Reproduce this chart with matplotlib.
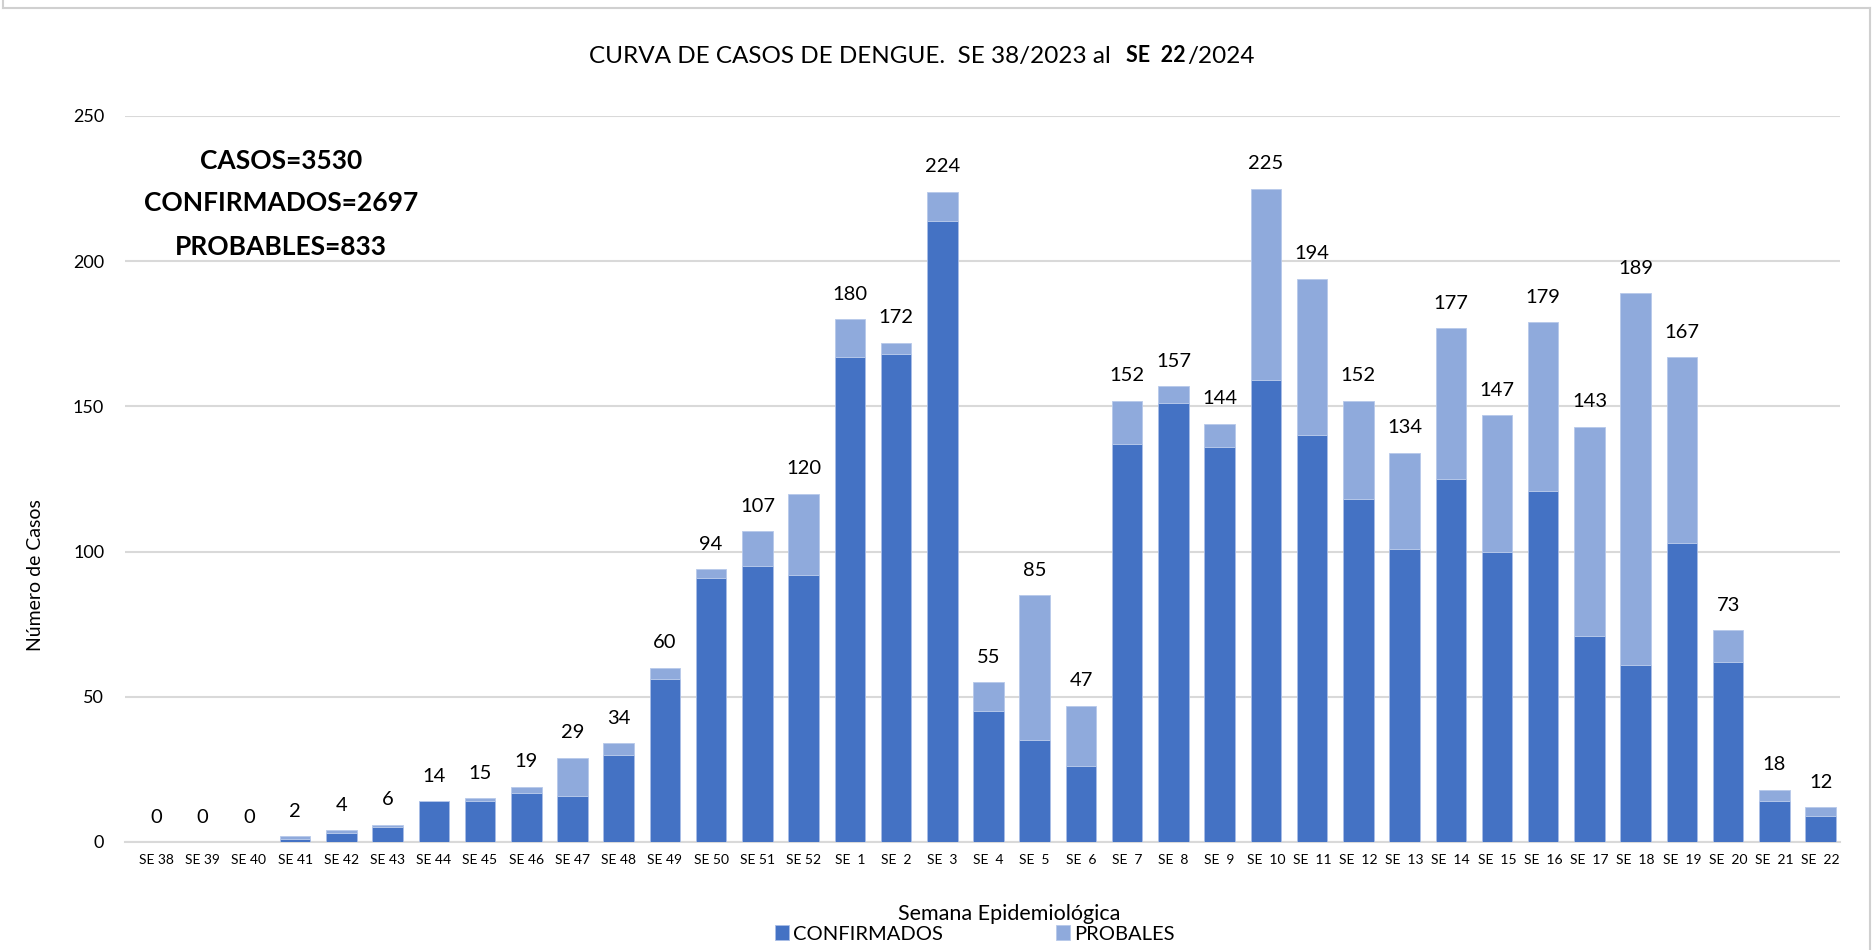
import matplotlib
matplotlib.use('Agg')
import matplotlib.pyplot as plt
from matplotlib.lines import Line2D
import numpy as np

# ---------------- data ----------------
semanas = ['SE 38', 'SE 39', 'SE 40', 'SE 41', 'SE 42', 'SE 43', 'SE 44', 'SE 45',
           'SE 46', 'SE 47', 'SE 48', 'SE 49', 'SE 50', 'SE 51', 'SE 52',
           'SE  1', 'SE  2', 'SE  3', 'SE  4', 'SE  5', 'SE  6', 'SE  7', 'SE  8',
           'SE  9', 'SE  10', 'SE  11', 'SE  12', 'SE  13', 'SE  14', 'SE  15',
           'SE  16', 'SE  17', 'SE  18', 'SE  19', 'SE  20', 'SE  21', 'SE  22']
confirmados = [0, 0, 0, 1, 3, 5, 14, 14, 17, 16, 30, 56, 91, 95, 92,
               167, 168, 214, 45, 35, 26, 137, 151, 136, 159, 140, 118, 101,
               125, 100, 121, 71, 61, 103, 62, 14, 9]
probables = [0, 0, 0, 1, 1, 1, 0, 1, 2, 13, 4, 4, 3, 12, 28,
             13, 4, 10, 10, 50, 21, 15, 6, 8, 66, 54, 34, 33,
             52, 47, 58, 72, 128, 64, 11, 4, 3]
totales = [0, 0, 0, 2, 4, 6, 14, 15, 19, 29, 34, 60, 94, 107, 120,
           180, 172, 224, 55, 85, 47, 152, 157, 144, 225, 194, 152, 134,
           177, 147, 179, 143, 189, 167, 73, 18, 12]
yticks = [0, 50, 100, 150, 200, 250]
resumen = ['CASOS=3530', 'CONFIRMADOS=2697', 'PROBABLES=833']

# ---------------- style ----------------
FONT = 'Lato'
plt.rcParams['font.family'] = [FONT, 'DejaVu Sans']
C_CONF = '#4472C4'
C_PROB = '#8FAADC'
GRID = '#D9D9D9'

W, H = 1873, 950
fig = plt.figure(figsize=(W / 100, H / 100), dpi=100)
fig.patch.set_facecolor('white')

ax = fig.add_axes([125 / W, 1 - 842 / H, (1840 - 125) / W, (842 - 116) / H])
x = np.arange(len(semanas))
bw = 0.66
ax.bar(x, confirmados, bw, color=C_CONF, edgecolor='#A9BDE6', linewidth=0.6,
       label='CONFIRMADOS', zorder=3)
ax.bar(x, probables, bw, bottom=confirmados, color=C_PROB, edgecolor='#B7C9EA',
       linewidth=0.6, label='PROBALES', zorder=3)

ax.set_ylim(0, 250)
ax.set_xlim(-0.68, len(semanas) - 1 + 0.42)
ax.set_yticks(yticks)
ax.set_yticklabels([str(v) for v in yticks], fontsize=13)
ax.set_xticks(x)
ax.set_xticklabels(semanas, fontsize=10)
ax.tick_params(axis='y', length=0, pad=15)
ax.tick_params(axis='x', length=0, pad=9)
ax.yaxis.grid(True, color=GRID, linewidth=1.5, zorder=0)
ax.set_axisbelow(True)
for s in ['top', 'right', 'left']:
    ax.spines[s].set_visible(False)
ax.spines['bottom'].set_color(GRID)
ax.spines['bottom'].set_linewidth(1.5)

for xi, t in zip(x, totales):
    ax.annotate(str(t), (xi, t), xytext=(0, 14), textcoords='offset points',
                ha='center', va='baseline', fontsize=14.5, color='black')

# summary text
for txt, yp in zip(resumen, [161, 203, 247]):
    fig.text(281 / W, 1 - yp / H, txt, ha='center', va='center',
             fontsize=19, fontweight='bold', color='black')

# axis labels
fig.text(36 / W, 1 - 575 / H, 'Número de Casos', rotation=90, ha='center',
         va='center', fontsize=14)
fig.text(1009 / W, 1 - 914 / H, 'Semana Epidemiológica', ha='center',
         va='center', fontsize=15.5)

# legend
fig.legend(loc='center', bbox_to_anchor=(975 / W, 1 - 934 / H), ncol=2,
           frameon=False, fontsize=14.5, handlelength=0.7, handleheight=0.7,
           handletextpad=0.2, columnspacing=5.6, borderpad=0, borderaxespad=0)

# title in pieces (bold "SE  22")
renderer = fig.canvas.get_renderer()
parts = [('CURVA DE CASOS DE DENGUE.  SE 38/2023 al  ', 'normal', 17.5),
         ('SE  22', 'bold', 15.5),
         ('/2024', 'normal', 17.5)]
texts = []
for s, wgt, fs in parts:
    t = fig.text(0, 1 - 54 / H, s, ha='left', va='center_baseline',
                 fontsize=fs, fontweight=wgt)
    texts.append(t)
widths = [t.get_window_extent(renderer).width for t in texts]
total_w = sum(widths)
x0 = 920 - total_w / 2
for t, w in zip(texts, widths):
    t.set_x(x0 / W)
    x0 += w + 2

# outer frame (left, top, right)
for xs, ys in [([3, 3], [0, 8]), ([3, 1870], [8, 8]), ([1870, 1870], [8, 950])]:
    fig.add_artist(Line2D([v / W for v in xs], [1 - v / H for v in ys],
                          transform=fig.transFigure, color='#D0D0D0', linewidth=1.5))

fig.savefig('out.png', dpi=100, facecolor='white')
